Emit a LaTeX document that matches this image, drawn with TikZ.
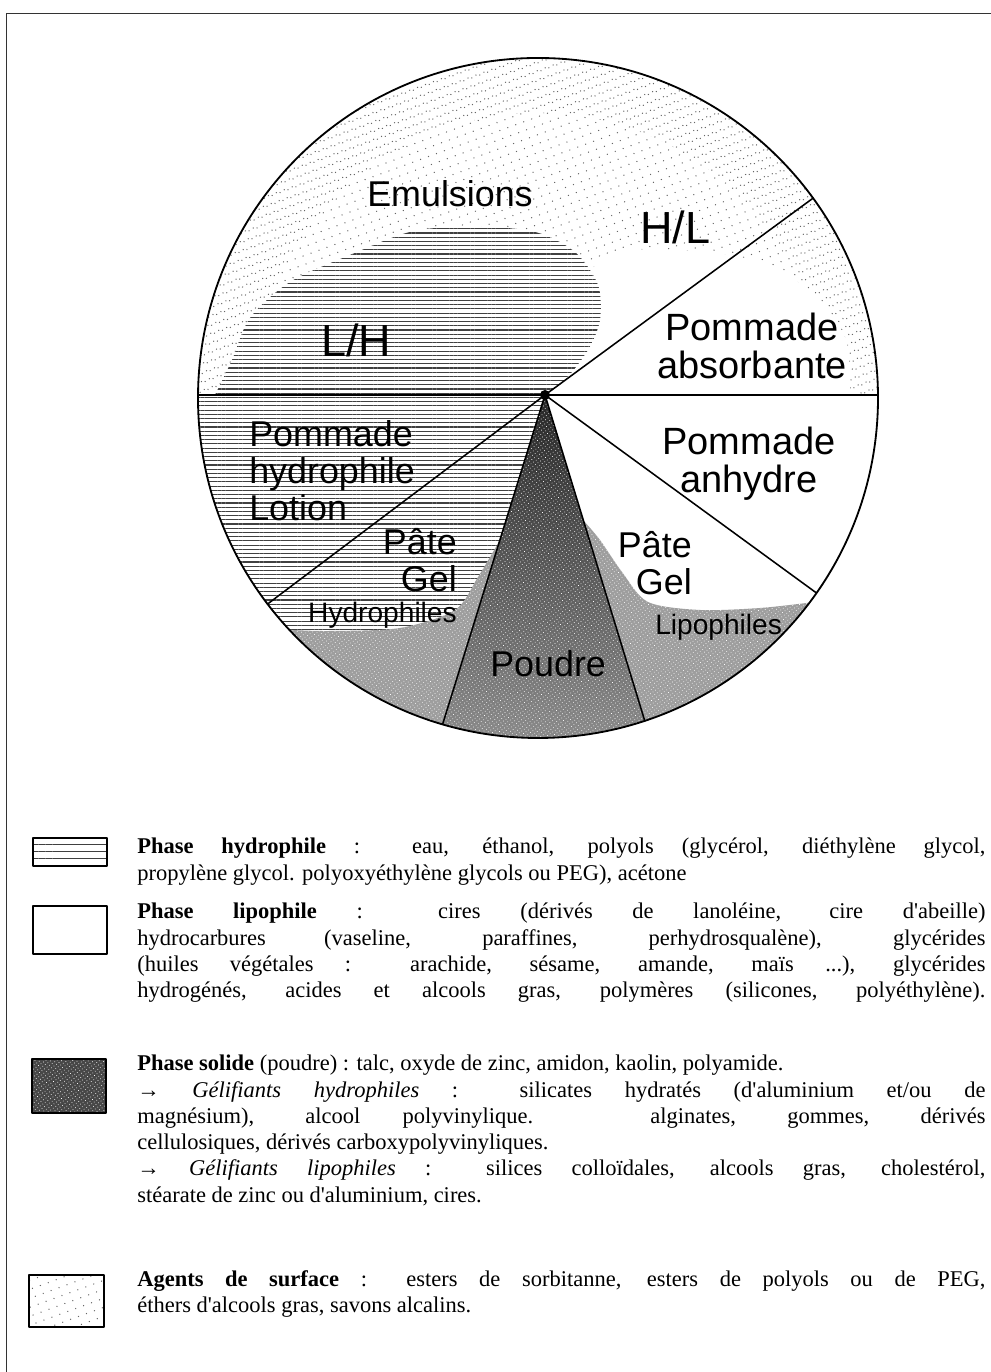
\documentclass[tikz,border=0pt]{standalone}
\usepackage{fontspec}
\setmainfont{Liberation Serif}[Ligatures=TeXOff]
\setsansfont{Liberation Sans}
\usetikzlibrary{calc,patterns.meta}

\begin{document}
\begin{tikzpicture}[x=0.025cm,y=0.025cm,line cap=round,line join=round,
  rim/.style={line width=1.3pt},
  spoke/.style={line width=1.1pt},
  frameline/.style={line width=.6pt,black!80},
  hatch/.style={preaction={fill=white},pattern={Lines[angle=0,distance=3pt,line width=.8pt]},pattern color=black!75},
  keyhatch/.style={pattern={Lines[angle=0,distance=5pt,line width=.6pt]},pattern color=black!75},
  speckle/.style={pattern={Dots[distance=6pt,radius=.5pt,angle=20]},pattern color=black!60},
  denser/.style={pattern={Dots[distance=6pt,radius=.5pt,angle=20,xshift=3pt,yshift=2pt]},pattern color=black!60},
  grain/.style={postaction={pattern={Dots[distance=2.2pt,radius=.35pt,angle=35]},pattern color=white}},
  powder/.style={fill=black!38,grain},
  lab/.style={font=\sffamily\fontsize{25.5}{26.5}\selectfont,inner sep=0pt},
  biglab/.style={font=\sffamily\fontsize{32}{32}\selectfont,inner sep=0pt},
  smalllab/.style={font=\sffamily\fontsize{20}{20}\selectfont,inner sep=0pt},
  keybox/.style={draw,line width=.9pt},
  legtext/.style={anchor=north west,inner sep=0pt,text width=21.2cm,align=justify,
    font=\fontsize{16}{18.65}\selectfont}]
\path[use as bounding box] (0,0) rectangle (991,1372);
\fill[white] (0,0) rectangle (991,1372);
\draw[frameline] (6,0) -- (6,1359) -- (991,1359);
\def\rad{340}
\coordinate (o) at (538,974);
\coordinate (hub) at (545,977);
\coordinate (wl) at ($(o)+(179.5:\rad)$);
\coordinate (wr) at ($(o)+(0.5:\rad)$);
\coordinate (ne) at ($(o)+(36:\rad)$);
\coordinate (se) at ($(o)+(-35:\rad)$);
\coordinate (pr) at ($(o)+(-71.7:\rad)$);
\coordinate (pl) at ($(o)+(253.7:\rad)$);
\coordinate (sw) at ($(o)+(217.3:\rad)$);
\coordinate (gl) at ($(o)+(223:\rad)$);
\coordinate (gr) at ($(o)+(-37:\rad)$);
% agents de surface (haut du disque), plus dense près du bord
\fill[speckle] (wl) -- (wr) arc[start angle=0.5,end angle=179.5,radius=\rad] -- cycle;
\begin{scope}
  \clip (wl) -- (wr) arc[start angle=0.5,end angle=179.5,radius=\rad] -- cycle;
  \fill[denser,even odd rule] (o) circle[radius=\rad] (o) circle[radius=285];
\end{scope}
\fill[white] (hub) -- plot[smooth] coordinates {(850,977) (846,1032) (812,1080) (752,1112)
  (680,1122) (612,1118) (570,1075) (552,1010)} -- cycle;
% phase hydrophile
\fill[hatch] (hub) -- (wl) arc[start angle=179.5,end angle=253.7,radius=\rad] -- cycle;
\fill[hatch] plot[smooth] coordinates {(215,977) (232,1012) (250,1054) (290,1090) (350,1117)
  (410,1140) (470,1146) (535,1140) (575,1120) (598,1087) (600,1052) (588,1022) (565,992)
  (545,977)} -- cycle;
% phase solide
\fill[powder] plot[smooth] coordinates {(500,832) (478,795) (455,762) (400,744) (330,741) (gl)}
  arc[start angle=223,end angle=253.7,radius=\rad] -- cycle;
\fill[powder] plot[smooth] coordinates {(583,852) (600,832) (622,800) (648,770) (700,762) (760,764) (gr)}
  arc[start angle=-37,end angle=-71.7,radius=\rad] -- cycle;
\shade[top color=black!85,bottom color=black!45,grain] (hub) -- (pl)
  arc[start angle=253.7,end angle=288.3,radius=\rad] -- cycle;
% disque et rayons
\draw[rim] (o) circle[radius=\rad];
\draw[spoke] (wl) -- (wr);
\draw[spoke] (hub) -- (ne);
\draw[spoke] (hub) -- (se);
\draw[spoke] (hub) -- (pl);
\draw[spoke] (hub) -- (pr);
\draw[spoke] (hub) -- (sw);
\fill (hub) circle[radius=5];
% textes du disque
\node[lab,anchor=north west] (emul) at (367,1192) {Emulsions};
\node[biglab,anchor=north west] (hl) at (640,1161) {H/L};
\node[biglab,anchor=north west] (lh) at (321,1048) {L/H};
\node[lab,anchor=north,align=center,font=\sffamily\fontsize{27}{27}\selectfont] (absorb) at (752,1059) {Pommade\\absorbante};
\node[lab,anchor=north,align=center,font=\sffamily\fontsize{27}{27}\selectfont] (anhyd) at (749,945) {Pommade\\anhydre};
\node[lab,anchor=north west,align=left] (hydro) at (249,952) {Pommade\\hydrophile\\Lotion};
\node[lab,anchor=north east,align=right] (pgL) at (457,844) {Pâte\\Gel};
\node[smalllab,anchor=north east] (hydroph) at (457,770) {Hydrophiles};
\node[lab,anchor=north east,align=right] (pgR) at (692,841) {Pâte\\Gel};
\node[smalllab,anchor=north west] (lipoph) at (655,758) {Lipophiles};
\node[lab,anchor=north west] (poudre) at (490,722) {Poudre};
% légende
\fill[white,keyhatch] (33,506) rectangle (107,534);
\draw[keybox] (33,506) rectangle (107,534);
\draw[keybox] (33,418) rectangle (107,466);
\fill[black!72,grain] (32,259) rectangle (106,313);
\draw[keybox] (32,259) rectangle (106,313);
\fill[speckle] (29,45) rectangle (104,97);
\draw[keybox] (29,45) rectangle (104,97);
\node[legtext] (lhydro) at (137,534) {\textbf{Phase hydrophile} : eau, éthanol, polyols (glycérol, diéthylène glycol,\linebreak
  propylène glycol. polyoxyéthylène glycols ou PEG), acétone};
\node[legtext] (llipo) at (137,469) {\textbf{Phase lipophile} : cires (dérivés de lanoléine, cire d'abeille)\linebreak
  hydrocarbures (vaseline, paraffines, perhydrosqualène), glycérides\linebreak
  (huiles végétales : arachide, sésame, amande, maïs ...), glycérides\linebreak
  hydrogénés, acides et alcools gras, polymères (silicones, polyéthylène).\linebreak};
\node[legtext] (lsolid) at (137,317) {\textbf{Phase solide} (poudre) : talc, oxyde de zinc, amidon, kaolin, polyamide.\\
  → \textit{Gélifiants hydrophiles} : silicates hydratés (d'aluminium et/ou de\linebreak
  magnésium), alcool polyvinylique. alginates, gommes, dérivés\linebreak
  cellulosiques, dérivés carboxypolyvinyliques.\\
  → \textit{Gélifiants lipophiles} : silices colloïdales, alcools gras, cholestérol,\linebreak
  stéarate de zinc ou d'aluminium, cires.};
\node[legtext] (lsurf) at (137,102) {\textbf{Agents de surface} : esters de sorbitanne, esters de polyols ou de PEG,\linebreak
  éthers d'alcools gras, savons alcalins.};
\end{tikzpicture}
\end{document}
